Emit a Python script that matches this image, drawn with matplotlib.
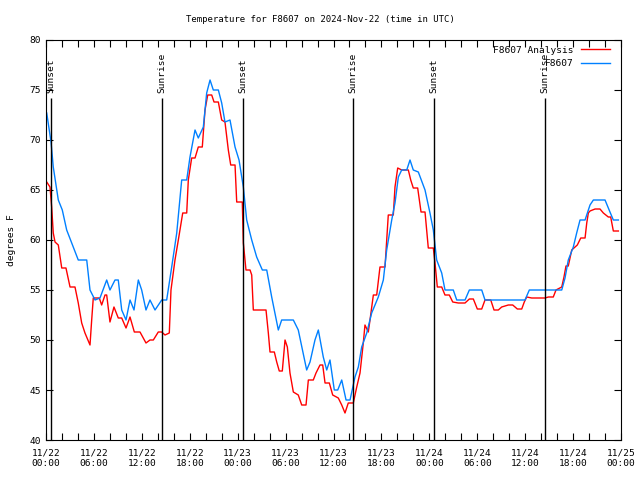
import matplotlib
matplotlib.use('Agg')
import matplotlib.pyplot as plt

# hours since 2024-11-22 00:00 UTC
station_hours = [0.09, 0.63, 0.91, 1.54, 2.04, 2.59, 3.22, 4.04, 5.10, 5.51, 6.14, 6.76, 7.60, 8.01,
                 8.64, 9.05, 9.48, 10.02, 10.52, 11.02, 11.56, 11.98, 12.52, 13.02, 13.65, 14.49,
                 15.11, 15.74, 16.37, 16.99, 17.62, 18.03, 18.66, 19.07, 19.70, 20.12, 20.54, 20.95,
                 21.58, 22.00, 22.41, 23.04, 23.67, 24.17, 24.71, 25.13, 25.76, 26.38, 27.09, 27.64,
                 28.26, 29.09, 29.51, 30.97, 31.59, 32.64, 33.06, 33.68, 34.10, 34.72, 35.15, 35.56,
                 36.10, 36.53, 37.03, 37.57, 38.07, 38.69, 39.11, 39.53, 40.16, 40.78, 41.61, 42.24,
                 42.66, 43.29, 43.70, 44.12, 44.54, 45.17, 45.58, 45.99, 46.62, 47.46, 48.08, 48.50,
                 48.92, 49.55, 49.96, 51.00, 51.43, 52.47, 53.01, 54.56, 54.97, 59.98, 60.52, 64.58,
                 64.99, 65.40, 66.03, 66.45, 66.87, 67.50, 68.12, 68.54, 70.00, 70.62, 71.04, 71.67]
station_temp = [72.7, 69.8, 67.3, 64.0, 63.0, 61.0, 59.7, 58.0, 58.0, 55.0, 54.0, 54.2, 56.0, 55.0,
                56.0, 56.0, 53.0, 52.0, 54.0, 53.0, 56.0, 55.0, 53.0, 54.0, 53.0, 54.0,
                54.0, 57.3, 60.7, 66.0, 66.0, 68.3, 71.0, 70.2, 71.3, 74.7, 76.0, 75.0,
                75.0, 73.7, 71.8, 72.0, 69.3, 68.0, 65.3, 62.0, 60.0, 58.3, 57.0, 57.0,
                54.3, 51.0, 52.0, 52.0, 51.0, 47.0, 47.8, 50.0, 51.0, 48.3, 47.0, 48.0,
                45.0, 45.0, 46.0, 44.0, 44.0, 46.3, 47.3, 49.3, 50.7, 52.7, 54.3, 56.0,
                59.0, 62.0, 63.7, 66.3, 67.0, 67.0, 68.0, 67.0, 66.8, 65.0, 62.7, 61.0,
                58.0, 56.7, 55.0, 55.0, 54.0, 54.0, 55.0, 55.0, 54.0, 54.0, 55.0, 55.0,
                56.2, 58.0, 59.3, 60.7, 62.0, 62.0, 63.5, 64.0, 64.0, 62.8, 62.0, 62.0]

analysis_hours = [0.09, 0.50, 0.71, 0.91, 1.13, 1.54, 1.97, 2.50, 3.01, 3.63, 4.04, 4.47, 4.88, 5.51,
                  5.72, 5.92, 6.67, 6.97, 7.39, 7.60, 8.01, 8.51, 9.05, 9.48, 10.02, 10.52, 11.06,
                  11.77, 12.52, 13.02, 13.44, 14.06, 14.49, 14.90, 15.44, 15.65, 16.15, 16.57, 17.12,
                  17.62, 17.82, 18.24, 18.66, 19.07, 19.57, 19.91, 20.25, 20.75, 21.04, 21.58, 22.00,
                  22.41, 22.83, 23.13, 23.67, 23.88, 24.58, 24.71, 25.04, 25.55, 25.76, 25.96, 27.55,
                  27.84, 28.05, 28.59, 28.89, 29.21, 29.59, 29.93, 30.22, 30.55, 30.97, 31.59, 32.02,
                  32.56, 32.85, 33.47, 33.81, 34.31, 34.65, 34.94, 35.48, 35.90, 36.60, 37.03, 37.44,
                  37.85, 38.48, 38.91, 39.32, 39.73, 39.94, 40.36, 40.57, 40.99, 41.41, 41.82, 42.45,
                  42.86, 43.49, 43.70, 44.04, 44.54, 45.37, 45.67, 45.99, 46.54, 46.96, 47.46, 47.87,
                  48.50, 48.71, 49.00, 49.55, 49.96, 50.50, 50.93, 51.63, 52.47, 53.01, 53.51, 54.01,
                  54.56, 54.97, 55.69, 56.10, 56.64, 57.06, 57.89, 58.44, 59.02, 59.57, 59.89, 60.19,
                  60.82, 62.48, 62.90, 63.52, 63.86, 64.58, 64.86, 65.11, 65.40, 65.83, 66.53, 66.96,
                  67.50, 67.71, 67.91, 68.12, 68.75, 69.37, 69.79, 70.41, 70.71, 71.04, 71.67]
analysis_temp = [65.8, 65.3, 63.3, 60.7, 59.8, 59.5, 57.2, 57.2, 55.3, 55.3, 53.7, 51.7, 50.7, 49.5,
                 52.0, 54.2, 54.2, 53.5, 54.5, 54.5, 51.8, 53.3, 52.2, 52.2, 51.2, 52.3, 50.8,
                 50.8, 49.7, 50.0, 50.0, 50.8, 50.8, 50.5, 50.7, 55.0, 58.0, 60.0, 62.7,
                 62.7, 66.0, 68.2, 68.2, 69.3, 69.3, 73.0, 74.5, 74.5, 73.8, 73.8, 72.0,
                 71.8, 69.0, 67.5, 67.5, 63.8, 63.8, 59.7, 57.0, 57.0, 56.5, 53.0, 53.0,
                 50.7, 48.8, 48.8, 47.8, 46.9, 46.9, 50.0, 49.3, 46.7, 44.8, 44.5, 43.5,
                 43.5, 46.0, 46.0, 46.7, 47.5, 47.5, 45.7, 45.7, 44.5, 44.2, 43.5, 42.7,
                 43.7, 43.7, 45.3, 46.7, 49.7, 51.5, 50.8, 52.0, 54.5, 54.5, 57.3, 57.3,
                 62.5, 62.5, 65.3, 67.2, 67.0, 67.0, 66.0, 65.2, 65.2, 62.8, 62.8, 59.2,
                 59.2, 57.7, 55.3, 55.3, 54.5, 54.5, 53.8, 53.7, 53.7, 54.1, 54.1, 53.1,
                 53.1, 54.0, 54.0, 53.0, 53.0, 53.3, 53.5, 53.5, 53.1, 53.1, 53.8, 54.3,
                 54.2, 54.2, 54.3, 54.3, 55.0, 55.3, 56.3, 57.4, 57.4, 59.0, 59.5, 60.2,
                 60.2, 61.7, 62.7, 62.9, 63.1, 63.1, 62.7, 62.3, 62.3, 60.9, 60.9]

sun_hours = [0.63, 14.52, 24.66, 38.42, 48.56, 62.45]
sun_labels = ['Sunset', 'Sunrise', 'Sunset', 'Sunrise', 'Sunset', 'Sunrise']

tick_hours = list(range(0, 73, 6))
tick_labels = ['11/22\n00:00', '11/22\n06:00', '11/22\n12:00', '11/22\n18:00',
               '11/23\n00:00', '11/23\n06:00', '11/23\n12:00', '11/23\n18:00',
               '11/24\n00:00', '11/24\n06:00', '11/24\n12:00', '11/24\n18:00',
               '11/25\n00:00']

plt.rcParams['font.family'] = 'DejaVu Sans Mono'
plt.rcParams['font.size'] = 6.8

fig = plt.figure(figsize=(6.4, 4.8), dpi=100)
ax = fig.add_axes([46 / 640, 1 - 440 / 480, 575 / 640, 400 / 480])

ax.plot(analysis_hours, analysis_temp, color='#ff0000', lw=1.0, label='F8607 Analysis')
ax.plot(station_hours, station_temp, color='#0080ff', lw=1.0, label='F8607')

# sunrise / sunset markers
ax.vlines(sun_hours, 40, 74.2, color='black', lw=1.0)
for h, lab in zip(sun_hours, sun_labels):
    ax.text(h, 74.7, lab, rotation=90, ha='center', va='bottom')

ax.set_xlim(0, 72)
ax.set_ylim(40, 80)
ax.set_xticks(tick_hours)
ax.set_xticklabels(tick_labels)
ax.set_xticks(range(0, 73, 2), minor=True)
ax.set_yticks(range(40, 81, 5))
ax.tick_params(which='both', direction='in', top=True, right=True, length=5, width=0.8)
ax.tick_params(axis='x', pad=6)

ax.set_ylabel('degrees F', labelpad=10)
# title is centred on the whole image, not on the axes
fig.text(0.5, 1 - 19 / 480, 'Temperature for F8607 on 2024-Nov-22 (time in UTC)',
         fontsize=6.5, ha='center', va='center')

ax.legend(loc='upper right', bbox_to_anchor=(1 - 5 / 575, 1), frameon=False, markerfirst=False,
          handlelength=3.1, labelspacing=0.45, borderaxespad=0.3, borderpad=0.3,
          handletextpad=0.8)

plt.savefig('out.png', dpi=100, facecolor='white')
